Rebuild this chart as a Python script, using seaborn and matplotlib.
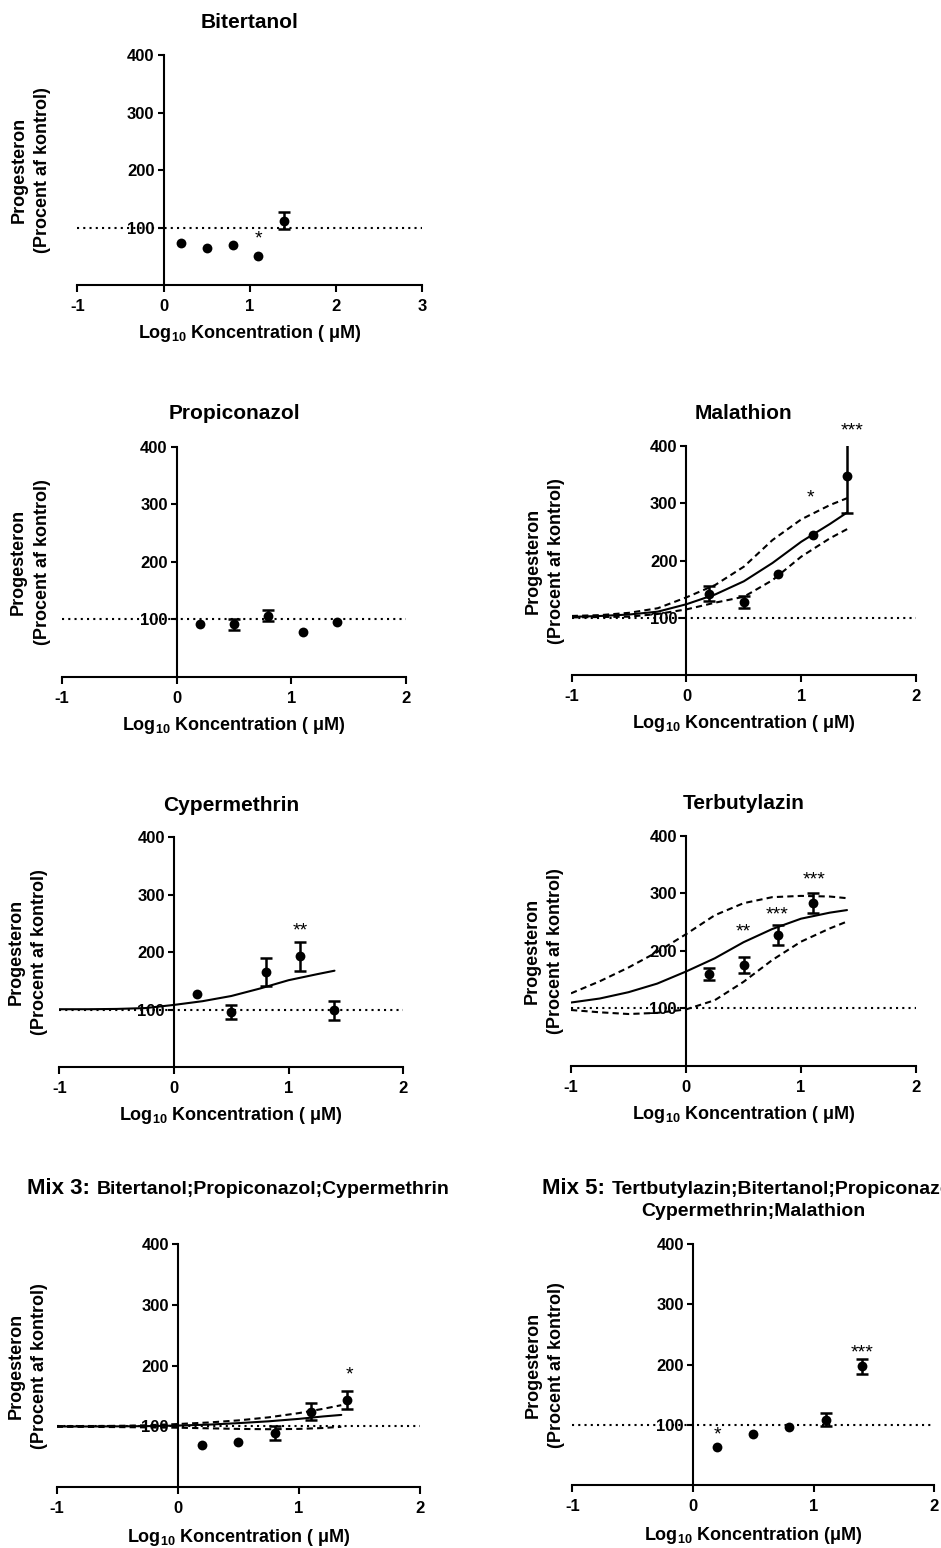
import matplotlib
matplotlib.use("Agg")
import matplotlib.pyplot as plt
import seaborn as sns
from matplotlib.offsetbox import TextArea, HPacker, VPacker, AnchoredOffsetbox

# ---------------- data ----------------
conc = [0.2, 0.5, 0.8, 1.1, 1.4]            # log10 concentration (uM)
conc_terb = [0.2, 0.5, 0.8, 1.1]

bitertanol_mean = [73, 64, 70, 51, 112]
bitertanol_sem = [0, 0, 0, 0, 14.5]
bitertanol_star_x = [1.1]
bitertanol_star_y = [80]
bitertanol_star_txt = ["*"]

propiconazol_mean = [91, 91, 106, 77, 95]
propiconazol_sem = [0, 10, 9.5, 0, 0]

malathion_mean = [142, 128, 176, 245, 348]
malathion_sem = [13, 10.5, 0, 0, 65]
malathion_star_x = [1.08, 1.44]
malathion_star_y = [310, 427]
malathion_star_txt = ["*", "***"]

cypermethrin_mean = [127, 96, 166, 193, 99]
cypermethrin_sem = [0, 12, 24, 25, 17]
cypermethrin_star_x = [1.1]
cypermethrin_star_y = [237]
cypermethrin_star_txt = ["**"]

terbutylazin_mean = [160, 175, 228, 284]
terbutylazin_sem = [11, 14, 17.5, 17.5]
terbutylazin_star_x = [0.5, 0.79, 1.11]
terbutylazin_star_y = [233, 263, 323]
terbutylazin_star_txt = ["**", "***", "***"]

mix3_mean = [70, 74, 89, 124, 144]
mix3_sem = [0, 0, 11.5, 14, 14.5]
mix3_star_x = [1.42]
mix3_star_y = [184]
mix3_star_txt = ["*"]

mix5_mean = [64, 85, 97, 109, 197]
mix5_sem = [0, 0, 0, 11, 13]
mix5_star_x = [0.2, 1.4]
mix5_star_y = [84, 220]
mix5_star_txt = ["*", "***"]

# fitted curves and confidence bands
curve_x = [-1, -0.75, -0.5, -0.25, 0, 0.25, 0.5, 0.75, 1.0, 1.25, 1.4]
malathion_fit = [102, 103.5, 106, 111, 124, 141, 164, 196, 233, 264, 284]
malathion_upper = [103.5, 105, 109, 117, 136, 157.5, 189.5, 236, 272, 297, 309]
malathion_lower = [101, 101.7, 102.3, 107, 115, 126.7, 137, 166, 207, 239, 255]

terbutylazin_fit = [110, 117, 128, 143, 164, 187, 215, 238, 256, 266.5, 271]
terbutylazin_upper = [126, 147, 171, 198, 229, 262, 283, 293.5, 295.7, 294.6, 291.7]
terbutylazin_lower = [97, 93, 90, 92, 98, 114, 146, 184, 216, 239, 251]

cypermethrin_fit = [101, 101, 101.5, 103, 108.5, 115, 124, 137, 151.5, 162, 168]

mix3_curve_x = [-1, -0.75, -0.5, -0.25, 0, 0.25, 0.5, 0.75, 1.0, 1.2, 1.35]
mix3_fit = [100, 100, 100.2, 100.6, 101.5, 103, 105.5, 108.5, 112.5, 116.5, 119]
mix3_upper = [100.5, 100.7, 101, 102, 104, 106.5, 110, 115, 122, 129, 135]
mix3_lower = [99.5, 99.3, 99, 98.5, 98, 97, 96, 95.5, 96, 97.5, 99.5]

YLABEL = "Progesteron\n(Procent af kontrol)"
XLABEL = "Log$_{10}$ Koncentration ( \u03bcM)"
XLABEL_NOSPACE = "Log$_{10}$ Koncentration (\u03bcM)"

# ---------------- style ----------------
sns.set_theme(style="ticks")
plt.rcParams["font.family"] = ["Liberation Sans", "DejaVu Sans"]
plt.rcParams["font.weight"] = "bold"
plt.rcParams["axes.unicode_minus"] = False
plt.rcParams["mathtext.fontset"] = "custom"
plt.rcParams["mathtext.rm"] = "Liberation Sans:bold"
plt.rcParams["mathtext.it"] = "Liberation Sans:bold"
plt.rcParams["mathtext.bf"] = "Liberation Sans:bold"
plt.rcParams["mathtext.default"] = "rm"
plt.rcParams["axes.edgecolor"] = "black"
plt.rcParams["axes.linewidth"] = 1.5
plt.rcParams["xtick.color"] = "black"
plt.rcParams["ytick.color"] = "black"
plt.rcParams["text.color"] = "black"
plt.rcParams["axes.labelcolor"] = "black"

W, H = 941, 1548
fig = plt.figure(figsize=(W / 100, H / 100), dpi=100)
fig.patch.set_facecolor("white")

TICK_FS = 12
LABEL_FS = 13
TITLE_FS = 15
STAR_FS = 14

# layout in pixels: (left, right, top(y=400), bottom(y=0))
panels = [
    dict(title="Bitertanol", x=conc, y=bitertanol_mean, e=bitertanol_sem,
         stars=(bitertanol_star_x, bitertanol_star_y, bitertanol_star_txt),
         xmax=3, curves=[], box=(77.3, 422.3, 55, 285.3), ylab_x=31,
         title_base=27.7, xlab_off=53, xlab=XLABEL),
    dict(title="Propiconazol", x=conc, y=propiconazol_mean, e=propiconazol_sem,
         stars=([], [], []), xmax=2, curves=[], box=(62, 406, 446.7, 676.7),
         ylab_x=30.5, title_base=419.3, xlab_off=53, xlab=XLABEL),
    dict(title="Malathion", x=conc, y=malathion_mean, e=malathion_sem,
         stars=(malathion_star_x, malathion_star_y, malathion_star_txt), xmax=2,
         curves=[(curve_x, malathion_fit, "-"), (curve_x, malathion_upper, "--"),
                 (curve_x, malathion_lower, "--")],
         box=(571.7, 916, 446, 675.3), ylab_x=545, title_base=419, xlab_off=53, xlab=XLABEL),
    dict(title="Cypermethrin", x=conc, y=cypermethrin_mean, e=cypermethrin_sem,
         stars=(cypermethrin_star_x, cypermethrin_star_y, cypermethrin_star_txt), xmax=2,
         curves=[(curve_x, cypermethrin_fit, "-")],
         box=(59.3, 403.3, 837.3, 1067.3), ylab_x=27.5, title_base=810.7, xlab_off=53, xlab=XLABEL),
    dict(title="Terbutylazin", x=conc_terb, y=terbutylazin_mean, e=terbutylazin_sem,
         stars=(terbutylazin_star_x, terbutylazin_star_y, terbutylazin_star_txt), xmax=2,
         curves=[(curve_x, terbutylazin_fit, "-"), (curve_x, terbutylazin_upper, "--"),
                 (curve_x, terbutylazin_lower, "--")],
         box=(571, 916, 836, 1065.7), ylab_x=543.5, title_base=809.3, xlab_off=53, xlab=XLABEL),
    dict(title=None, mix=("Mix 3:", ["Bitertanol;Propiconazol;Cypermethrin"]),
         x=conc, y=mix3_mean, e=mix3_sem,
         stars=(mix3_star_x, mix3_star_y, mix3_star_txt), xmax=2,
         curves=[(mix3_curve_x, mix3_fit, "-"), (mix3_curve_x, mix3_upper, "--"),
                 (mix3_curve_x, mix3_lower, "--")],
         box=(56.7, 420, 1244, 1487.3), ylab_x=27.5, title_bottom=1199, xlab_off=55, xlab=XLABEL),
    dict(title=None, mix=("Mix 5:", ["Tertbutylazin;Bitertanol;Propiconazol;", "Cypermethrin;Malathion"]),
         x=conc, y=mix5_mean, e=mix5_sem,
         stars=(mix5_star_x, mix5_star_y, mix5_star_txt), xmax=2, curves=[],
         box=(572.3, 934.3, 1244, 1485.3), ylab_x=545, title_bottom=1220, xlab_off=55,
         xlab=XLABEL_NOSPACE),
]

for p in panels:
    left, right, top, bottom = p["box"]
    wpx, hpx = right - left, bottom - top
    ax = fig.add_axes([left / W, 1 - bottom / H, wpx / W, hpx / H])
    ax.set_facecolor("none")
    ax.set_xlim(-1, p["xmax"])
    ax.set_ylim(0, 400)
    ax.spines["left"].set_position(("data", 0))
    ax.spines["bottom"].set_position(("data", 0))
    ax.spines["top"].set_visible(False)
    ax.spines["right"].set_visible(False)
    ax.set_xticks(list(range(-1, p["xmax"] + 1)))
    ax.set_yticks([100, 200, 300, 400])
    ax.tick_params(axis="x", length=5, width=1.5, pad=5, labelsize=TICK_FS, direction="out")
    ax.tick_params(axis="y", length=4, width=1.5, pad=2.5, labelsize=TICK_FS, direction="out")
    for lab in ax.get_xticklabels() + ax.get_yticklabels():
        lab.set_fontweight("bold")

    # reference line at 100 %
    ax.axhline(100, color="black", lw=1.5, linestyle=(0, (1, 2)), zorder=3)

    # fitted curves
    for cx, cy, ls in p["curves"]:
        sns.lineplot(x=cx, y=cy, ax=ax, color="black", linewidth=1.5,
                     linestyle=ls if ls == "-" else (0, (3, 2)),
                     estimator=None, sort=False, legend=False, zorder=2)

    # error bars (only those visible beyond the marker)
    ex = [xx for xx, ee in zip(p["x"], p["e"]) if ee > 0]
    ey = [yy for yy, ee in zip(p["y"], p["e"]) if ee > 0]
    ee_ = [ee for ee in p["e"] if ee > 0]
    if ex:
        ax.errorbar(ex, ey, yerr=ee_, fmt="none", ecolor="black", elinewidth=1.8,
                    capsize=4.3, capthick=1.8, zorder=4)

    # points
    sns.scatterplot(x=p["x"], y=p["y"], ax=ax, color="black", s=50,
                    edgecolor="black", linewidth=0, zorder=5, legend=False)

    # significance stars
    sx, sy, st = p["stars"]
    for xx, yy, tt in zip(sx, sy, st):
        ax.text(xx, yy, tt, ha="center", va="center", fontsize=STAR_FS,
                fontweight="normal", zorder=6)

    # labels
    ax.set_xlabel(p["xlab"], fontsize=LABEL_FS, fontweight="bold", va="baseline")
    ax.xaxis.set_label_coords(0.5, -p["xlab_off"] / hpx)
    ax.set_ylabel(YLABEL, fontsize=LABEL_FS, fontweight="bold", va="center",
                  ha="center", linespacing=1.5)
    ax.yaxis.set_label_coords((p["ylab_x"] - left) / wpx, 0.5)

    # titles
    if p["title"] is not None:
        ax.set_title(p["title"], fontsize=TITLE_FS, fontweight="bold", pad=0,
                     y=(bottom - p["title_base"]) / hpx, va="baseline")
    else:
        head, rest = p["mix"]
        big = TextArea(head, textprops=dict(fontsize=16, fontweight="bold", color="black"))
        first = TextArea(rest[0], textprops=dict(fontsize=14, fontweight="bold", color="black"))
        line1 = HPacker(children=[big, first], align="baseline", pad=0, sep=5)
        rows = [line1] + [TextArea(r, textprops=dict(fontsize=14, fontweight="bold", color="black"))
                          for r in rest[1:]]
        box = VPacker(children=rows, align="center", pad=0, sep=3) if len(rows) > 1 else line1
        anch = AnchoredOffsetbox(loc="lower center", child=box, pad=0, borderpad=0,
                                 frameon=False,
                                 bbox_to_anchor=(0.5, (bottom - p["title_bottom"]) / hpx),
                                 bbox_transform=ax.transAxes)
        anch.set_clip_on(False)
        ax.add_artist(anch)

fig.savefig("out.png", dpi=100, facecolor="white")
